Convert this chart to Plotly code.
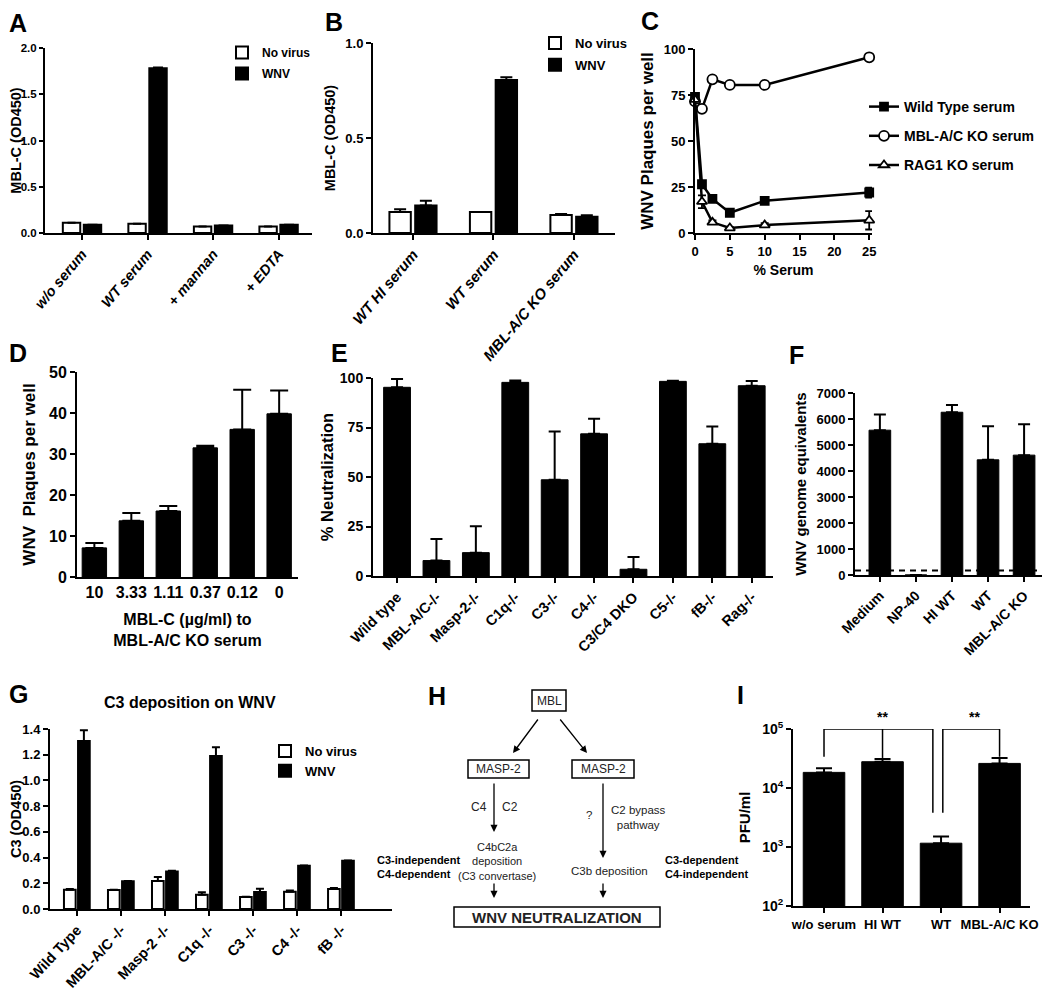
import plotly.graph_objects as go

W, H = 1050, 993
OFF = 8  # the page body keeps its default 8px margin
FW, FH = W - OFF, H - OFF
FAM = "Liberation Sans, Arial, sans-serif"

# ---- data -------------------------------------------------------------
a_cats = ["w/o serum", "WT serum", "+ mannan", "+ EDTA"]
a_novirus = [0.11, 0.10, 0.07, 0.07]
a_novirus_err = [0, 0, 0, 0]
a_wnv = [0.09, 1.78, 0.08, 0.09]
a_wnv_err = [0, 0.01, 0, 0]

b_cats = ["WT HI serum", "WT serum", "MBL-A/C KO serum"]
b_novirus = [0.11, 0.11, 0.095]
b_novirus_err = [0.015, 0, 0.005]
b_wnv = [0.145, 0.805, 0.085]
b_wnv_err = [0.025, 0.015, 0.008]

c_serum = [0, 1, 2.5, 5, 10, 25]
c_wt = [74, 26.5, 18.5, 11, 17.5, 22]
c_wt_err = [2, 1.5, 1.5, 1, 1, 2.7]
c_mbl = [71.5, 67.5, 83.5, 80.5, 80.5, 95.5]
c_mbl_err = [1, 1, 1, 1, 1, 1]
c_rag = [72.5, 17, 5.8, 2.7, 4.3, 6.9]
c_rag_err = [2, 3.5, 1, 0.5, 1, 5]

d_cats = ["10", "3.33", "1.11", "0.37", "0.12", "0"]
d_vals = [7.1, 13.7, 16.1, 31.5, 36.0, 39.8]
d_err = [1.2, 1.9, 1.2, 0.5, 9.7, 5.7]

e_cats = ["Wild type", "MBL-A/C-/-", "Masp-2-/-", "C1q-/-", "C3-/-", "C4-/-",
          "C3/C4 DKO", "C5-/-", "fB-/-", "Rag-/-"]
e_vals = [95.3, 7.8, 11.8, 97.8, 48.6, 71.8, 3.4, 98.3, 66.8, 96.1]
e_err = [4.2, 10.9, 13.3, 1.0, 24.4, 7.6, 6.2, 0.3, 8.7, 2.4]

f_cats = ["Medium", "NP-40", "HI WT", "WT", "MBL-A/C KO"]
f_vals = [5570, 0, 6260, 4430, 4610]
f_err = [600, 0, 280, 1290, 1190]
f_limit = 170

g_cats = ["Wild Type", "MBL-A/C -/-", "Masp-2 -/-", "C1q -/-", "C3 -/-", "C4 -/-", "fB -/-"]
g_novirus = [0.15, 0.147, 0.217, 0.111, 0.093, 0.135, 0.155]
g_novirus_err = [0.005, 0.003, 0.031, 0.019, 0.003, 0.008, 0.008]
g_wnv = [1.307, 0.215, 0.292, 1.19, 0.132, 0.336, 0.375]
g_wnv_err = [0.083, 0.003, 0.006, 0.068, 0.026, 0.002, 0.003]

i_cats = ["w/o serum", "HI WT", "WT", "MBL-A/C KO"]
i_vals = [18400, 27900, 1160, 26100]
i_err = [3300, 3000, 340, 6000]
# significance brackets (category index, PFU/ml)
i_br1_x = [0, 0, 1.86, 1.86]
i_br1_y = [33900, 1e5, 1e5, 3800]
i_br1_mid_x = [1, 1]
i_br1_mid_y = [1e5, 32300]
i_br2_x = [2.03, 2.03, 3, 3]
i_br2_y = [3800, 1e5, 1e5, 33900]
i_star_x = [1, 2.58]


def px(x):
    return (x - OFF) / FW


def py(y):
    return 1 - (y - OFF) / FH


def fnt(size, weight="bold", style="normal", color="black"):
    return dict(family=FAM, size=size, color=color, weight=weight, style=style)


def axis(xd=None, yd=None, size=12, **kw):
    d = dict(showline=True, linecolor="black", linewidth=2, ticks="outside",
             ticklen=5, tickwidth=2, tickcolor="black", showgrid=False,
             zeroline=False, tickfont=fnt(size), fixedrange=True, automargin=False)
    if xd:
        d["domain"] = [px(xd[0]), px(xd[1])]
    if yd:
        d["domain"] = [py(yd[1]), py(yd[0])]
    d.update(kw)
    return d


def errs(v, w):
    return dict(type="data", array=v, arrayminus=[0] * len(v), symmetric=False,
                color="black", thickness=2, width=w)


def black_bars(cats, vals, err, xa, ya, width, cap):
    return go.Bar(x=cats, y=vals, xaxis=xa, yaxis=ya, showlegend=False, width=width,
                  marker=dict(color="black", line=dict(color="black", width=1)),
                  error_y=errs(err, cap))


fig = go.Figure()

# ---- A ----
fig.add_trace(go.Bar(x=a_cats, y=a_novirus, name="No virus", xaxis="x", yaxis="y",
                     marker=dict(color="white", line=dict(color="black", width=2)),
                     error_y=errs(a_novirus_err, 4), legend="legend", legendgroup="a1"))
fig.add_trace(go.Bar(x=a_cats, y=a_wnv, name="WNV", xaxis="x", yaxis="y",
                     marker=dict(color="black", line=dict(color="black", width=2)),
                     error_y=errs(a_wnv_err, 5), legend="legend", legendgroup="a2"))
# ---- B ----
fig.add_trace(go.Bar(x=b_cats, y=b_novirus, name="No virus", xaxis="x2", yaxis="y2",
                     marker=dict(color="white", line=dict(color="black", width=2)),
                     error_y=errs(b_novirus_err, 6), legend="legend2", legendgroup="b1"))
fig.add_trace(go.Bar(x=b_cats, y=b_wnv, name="WNV", xaxis="x2", yaxis="y2",
                     marker=dict(color="black", line=dict(color="black", width=2)),
                     error_y=errs(b_wnv_err, 6), legend="legend2", legendgroup="b2"))
# ---- C ----
for name, vals, err, sym, fill, sz in [
        ("Wild Type serum", c_wt, c_wt_err, "square", "black", 8),
        ("MBL-A/C KO serum", c_mbl, c_mbl_err, "circle", "white", 10),
        ("RAG1 KO serum", c_rag, c_rag_err, "triangle-up", "white", 9)]:
    fig.add_trace(go.Scatter(
        x=c_serum, y=vals, name=name, xaxis="x3", yaxis="y3", mode="lines+markers",
        line=dict(color="black", width=2.5),
        marker=dict(symbol=sym, size=sz, color=fill, line=dict(color="black", width=1.8)),
        error_y=dict(type="data", array=err, color="black", thickness=1.8, width=4),
        cliponaxis=False, legend="legend3", legendgroup=name))
# ---- D, E, F ----
fig.add_trace(black_bars(d_cats, d_vals, d_err, "x4", "y4", 0.66, 9))
fig.add_trace(black_bars(e_cats, e_vals, e_err, "x5", "y5", 0.68, 6))
fig.add_trace(black_bars(f_cats, f_vals, f_err, "x6", "y6", 0.6, 6))
# ---- G ----
fig.add_trace(go.Bar(x=g_cats, y=g_novirus, name="No virus", xaxis="x7", yaxis="y7",
                     marker=dict(color="white", line=dict(color="black", width=2)),
                     error_y=errs(g_novirus_err, 4), legend="legend4", legendgroup="g1"))
fig.add_trace(go.Bar(x=g_cats, y=g_wnv, name="WNV", xaxis="x7", yaxis="y7",
                     marker=dict(color="black", line=dict(color="black", width=2)),
                     error_y=errs(g_wnv_err, 4), legend="legend4", legendgroup="g2"))
# ---- I (numeric x so the brackets can sit between categories) ----
i_pos = list(range(len(i_cats)))
fig.add_trace(black_bars(i_pos, i_vals, i_err, "x8", "y8", 0.71, 8))
for bx, by in [(i_br1_x, i_br1_y), (i_br1_mid_x, i_br1_mid_y), (i_br2_x, i_br2_y)]:
    fig.add_trace(go.Scatter(x=bx, y=by, xaxis="x8", yaxis="y8", mode="lines",
                             line=dict(color="black", width=1.5), showlegend=False,
                             cliponaxis=False, hoverinfo="skip"))

ann = []
shapes = []


def note(text, x, y, size, weight="bold", xanchor="center", color="black", **kw):
    d = dict(text=text, x=px(x), y=py(y), xref="paper", yref="paper", showarrow=False,
             xanchor=xanchor, yanchor="middle", align=xanchor,
             font=fnt(size, weight, color=color))
    d.update(kw)
    ann.append(d)


# panel letters
for letter, x, y in [("A", 18, 23), ("B", 334, 22), ("C", 650, 21), ("D", 18, 353),
                     ("E", 339, 353), ("F", 796, 355), ("G", 18, 694), ("H", 437, 696),
                     ("I", 740, 695)]:
    note(letter, x, y, 25)

note("C3 deposition on WNV", 190, 702, 16)

# significance stars in I
for xs in i_star_x:
    ann.append(dict(text="**", x=xs, y=py(717), xref="x8", yref="paper", showarrow=False,
                    xanchor="center", yanchor="middle", font=fnt(14)))

# F detection limit
shapes.append(dict(type="line", xref="x6 domain", yref="y6", x0=0, x1=1,
                   y0=f_limit, y1=f_limit, line=dict(color="black", width=2, dash="6px,5px")))

# ---- H diagram ----
DG = "#222"


def box(x0, y0, x1, y1, text, size=12, weight="normal"):
    shapes.append(dict(type="rect", xref="paper", yref="paper", x0=px(x0), x1=px(x1),
                       y0=py(y1), y1=py(y0), line=dict(color="black", width=1.5),
                       fillcolor="white", layer="below"))
    note(text, (x0 + x1) / 2, (y0 + y1) / 2, size, weight, color=DG)


def arrow(x0, y0, x1, y1):
    ann.append(dict(text="", x=px(x1), y=py(y1), ax=x0 - x1, ay=y0 - y1, xref="paper",
                    yref="paper", showarrow=True, arrowhead=2, arrowsize=1.1,
                    arrowwidth=1.3, arrowcolor="black"))


box(532, 690, 566, 711, "MBL")
box(468, 760, 529, 778, "MASP-2")
box(572, 760, 634, 778, "MASP-2")
box(454, 907, 660, 927, "WNV NEUTRALIZATION", size=15, weight="bold")
arrow(539, 718, 513, 753)
arrow(559, 718, 587, 753)
arrow(494, 782, 494, 832)
arrow(603, 782, 603, 858)
arrow(494, 882, 494, 898)
arrow(603, 882, 603, 898)
note("C4", 479, 807, 12, "normal", color=DG)
note("C2", 510, 807, 12, "normal", color=DG)
note("?", 589, 815, 11.5, "normal", color=DG)
note("C2 bypass<br>pathway", 638, 817, 11.5, "normal", color=DG)
note("C4bC2a<br>deposition<br>(C3 convertase)", 497, 861, 11, "normal", color=DG)
note("C3b deposition", 609, 871, 11.5, "normal", color=DG)
note("C3-independent<br>C4-dependent", 375, 867, 11, xanchor="left")
note("C3-dependent<br>C4-independent", 663, 867, 11, xanchor="left")

legend_style = dict(bgcolor="rgba(0,0,0,0)", borderwidth=0, xanchor="left",
                    yanchor="top", itemclick=False, itemdoubleclick=False)

fig.update_layout(
    width=FW, height=FH, margin=dict(l=0, r=0, t=0, b=0, autoexpand=False),
    paper_bgcolor="white", plot_bgcolor="white",
    font=fnt(12), barmode="group", bargap=0.36, bargroupgap=0.17,
    showlegend=True,
    legend=dict(x=px(222), y=py(38), font=fnt(12), tracegroupgap=2, **legend_style),
    legend2=dict(x=px(535), y=py(28), font=fnt(13), tracegroupgap=2, **legend_style),
    legend3=dict(x=px(864), y=py(91), font=fnt(14), tracegroupgap=8, **legend_style),
    legend4=dict(x=px(265), y=py(736), font=fnt(13), tracegroupgap=0, **legend_style),
    # A
    xaxis=axis(xd=(45, 312), anchor="y", range=[-0.565, 3.51], tickangle=-50,
               tickfont=fnt(14.5, style="italic")),
    yaxis=axis(yd=(48, 233), anchor="x", range=[0, 2], dtick=0.5, tickformat=".1f",
               size=11.5, ticklen=4,
               title=dict(text="MBL-C (OD450)", font=fnt(14.5), standoff=8)),
    # B
    xaxis2=axis(xd=(373, 615), anchor="y2", range=[-0.497, 2.51], tickangle=-50,
                tickfont=fnt(15, style="italic")),
    yaxis2=axis(yd=(43, 233), anchor="x2", range=[0, 1], dtick=0.5, tickformat=".1f",
                size=13, title=dict(text="MBL-C (OD450)", font=fnt(14.5), standoff=6)),
    # C
    xaxis3=axis(xd=(695, 872), anchor="y3", range=[0, 25.4], tickvals=[0, 5, 10, 15, 20, 25],
                size=13, title=dict(text="% Serum", font=fnt(14), standoff=8)),
    yaxis3=axis(yd=(49, 233), anchor="x3", range=[0, 100], dtick=25, size=13,
                title=dict(text="WNV Plaques per well", font=fnt(17), standoff=6)),
    # D
    xaxis4=axis(xd=(77, 298), anchor="y4", range=[-0.47, 5.51], size=16, ticklen=0,
                title=dict(text="MBL-C (µg/ml) to<br>MBL-A/C KO serum", font=fnt(16), standoff=14)),
    yaxis4=axis(yd=(372, 577), anchor="x4", range=[0, 50], dtick=10, size=16,
                title=dict(text="WNV  Plaques per well", font=fnt(17), standoff=9)),
    # E
    xaxis5=axis(xd=(373, 773), anchor="y5", range=[-0.61, 9.54], tickangle=-45, size=14.5),
    yaxis5=axis(yd=(378, 576), anchor="x5", range=[0, 100], dtick=25, size=14,
                title=dict(text="% Neutralization", font=fnt(16.5), standoff=2)),
    # F
    xaxis6=axis(xd=(855, 1045), anchor="y6", range=[-0.69, 4.58], tickangle=-45, size=14),
    yaxis6=axis(yd=(393, 575), anchor="x6", range=[0, 7000], dtick=1000, size=13,
                title=dict(text="WNV genome equivalents", font=fnt(15), standoff=6)),
    # G
    xaxis7=axis(xd=(50, 392), anchor="y7", range=[-0.61, 7.16], tickangle=-47, size=14.5),
    yaxis7=axis(yd=(729, 909), anchor="x7", range=[0, 1.4], dtick=0.2, tickformat=".1f",
                size=13, title=dict(text="C3 (OD450)", font=fnt(14.5), standoff=7)),
    # I
    xaxis8=axis(xd=(793, 1030), anchor="y8", range=[-0.53, 3.52], size=13,
                tickvals=i_pos, ticktext=i_cats),
    yaxis8=axis(yd=(729, 906), anchor="x8", type="log", range=[2, 5],
                tickvals=[1e2, 1e3, 1e4, 1e5],
                ticktext=["10<sup>2</sup>", "10<sup>3</sup>", "10<sup>4</sup>", "10<sup>5</sup>"],
                size=14, title=dict(text="PFU/ml", font=fnt(15), standoff=8)),
    annotations=ann, shapes=shapes,
)

fig.write_html("out.html")
